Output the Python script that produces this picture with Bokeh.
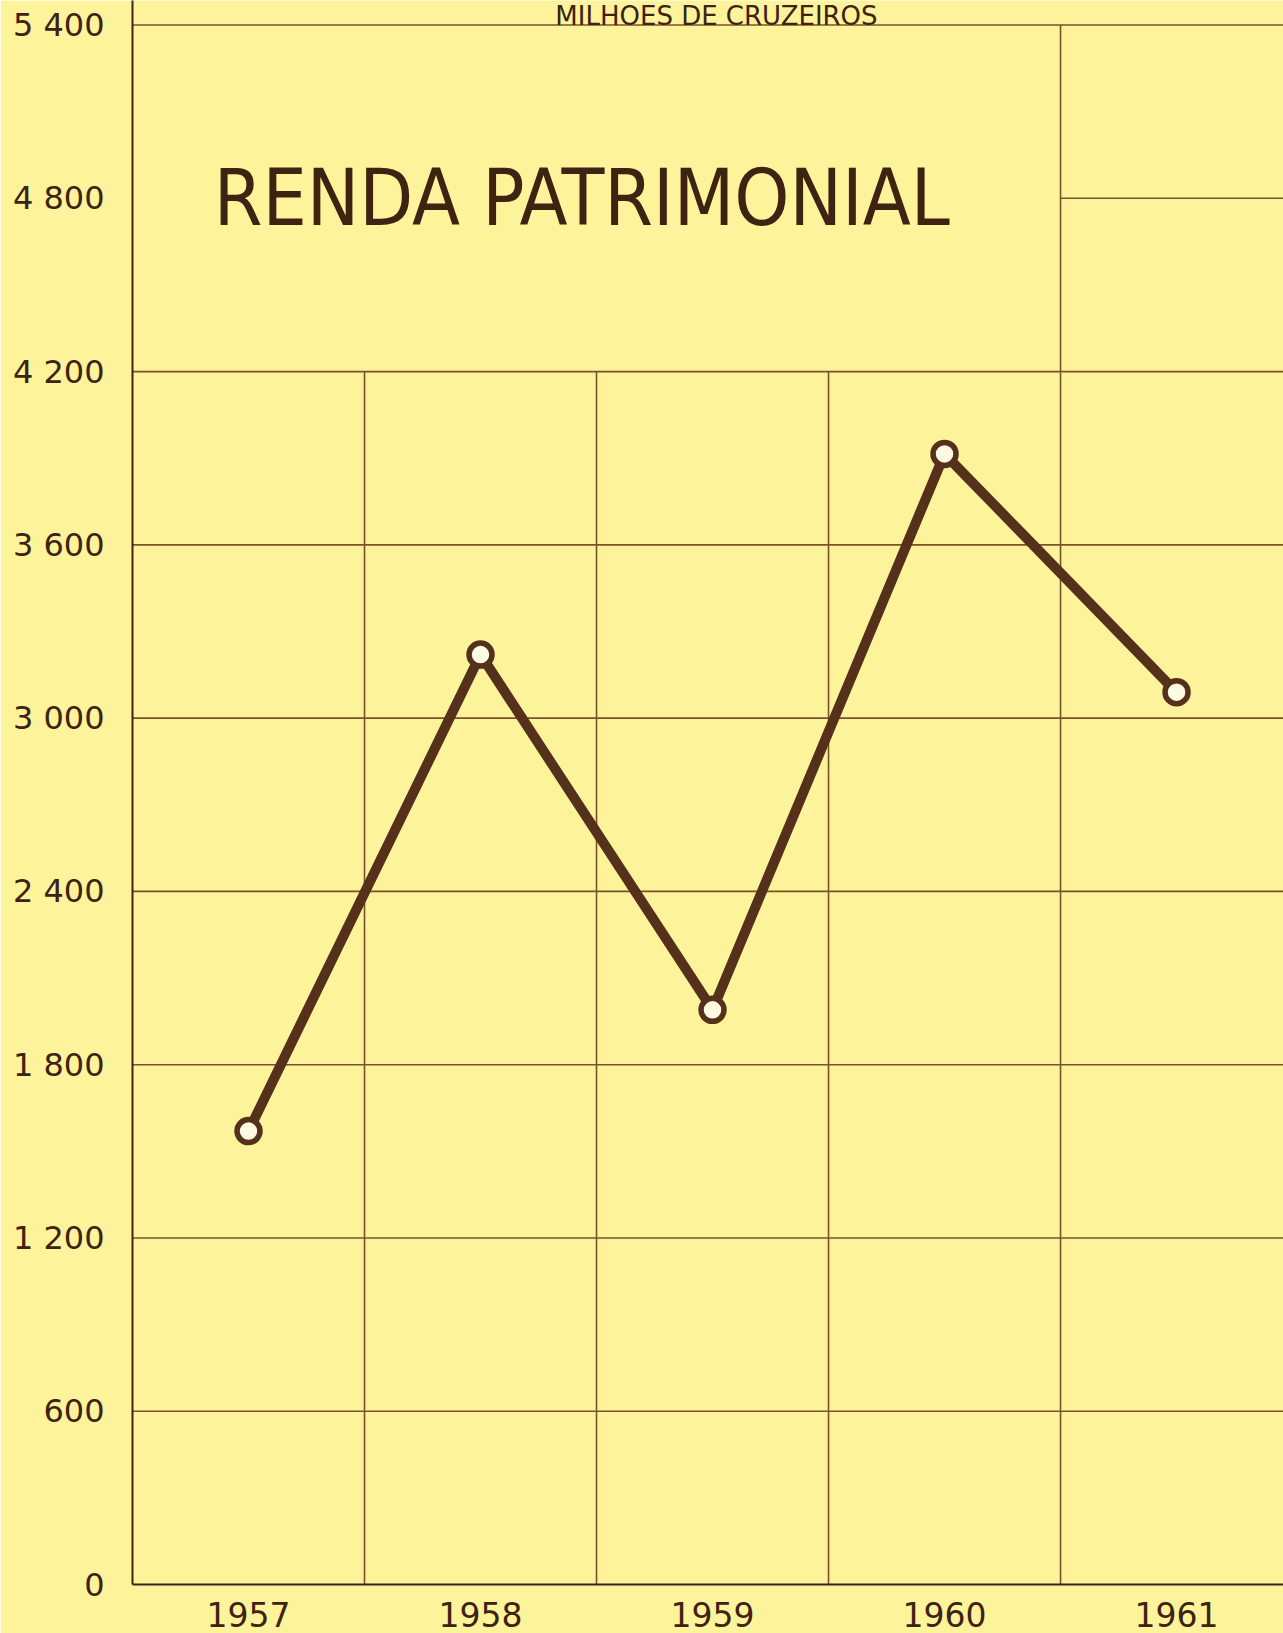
from bokeh.plotting import figure
from bokeh.models import FixedTicker, Range1d, Label
from bokeh.embed import file_html
from bokeh.resources import INLINE

# ---- data ----
years = [1957, 1958, 1959, 1960, 1961]
renda = [1570, 3220, 1990, 3915, 3090]          # milhões de cruzeiros
year_labels = ["1957", "1958", "1959", "1960", "1961"]
y_ticks = [0, 600, 1200, 1800, 2400, 3000, 3600, 4200, 4800, 5400]
y_tick_labels = ["0", "600", "1 200", "1 800", "2 400", "3 000",
                 "3 600", "4 200", "4 800", "5 400"]
title_text = "RENDA PATRIMONIAL"
unit_text = "MILHOES DE CRUZEIROS"

# ---- style ----
BG = "#FCF39B"
DARK = "#3E2212"
LINE = "#55301A"
GRID = "#7A5228"
COND = "DejaVu Sans Condensed, Roboto, sans-serif"
x_lo, x_hi = 1956.5, 1961.461
box_bottom = 4200          # the title box occupies the area above this value
box_right_col = 1960.5     # ... left of this column boundary

p = figure(width=1283, height=1633, output_backend="svg", toolbar_location=None,
           x_range=Range1d(x_lo, x_hi), y_range=Range1d(0, 5485),
           min_border_left=132, min_border_right=0, min_border_top=0,
           min_border_bottom=49, background_fill_color=BG, border_fill_color=BG,
           outline_line_color=None)
p.grid.visible = False

# axes
p.xaxis.ticker = FixedTicker(ticks=years)
p.xaxis.major_label_overrides = {y: l for y, l in zip(years, year_labels)}
p.yaxis.ticker = FixedTicker(ticks=y_ticks)
p.yaxis.major_label_overrides = {t: l for t, l in zip(y_ticks, y_tick_labels)}
for ax in (p.xaxis, p.yaxis):
    ax.axis_line_color = DARK
    ax.axis_line_width = 2
    ax.major_tick_line_color = None
    ax.minor_tick_line_color = None
    ax.major_label_text_font = "DejaVu Sans"
    ax.major_label_text_color = DARK
p.xaxis.major_label_text_font_size = "33px"
p.xaxis.major_label_standoff = 11
p.yaxis.major_label_text_font_size = "32px"
p.yaxis.major_label_standoff = 22

# grid lines (the title box keeps its interior free)
col_bounds = [y + 0.5 for y in years[:-1]]
h_full = [t for t in y_ticks if 0 < t <= box_bottom] + [y_ticks[-1]]
h_right = [t for t in y_ticks if box_bottom < t < y_ticks[-1]]
v_low = [c for c in col_bounds if c < box_right_col]
v_full = [c for c in col_bounds if c >= box_right_col]
grid_kw = dict(line_color=GRID, line_width=1.6)
p.segment(x0=[x_lo] * len(h_full), y0=h_full, x1=[x_hi + 1] * len(h_full), y1=h_full, **grid_kw)
p.segment(x0=[box_right_col] * len(h_right), y0=h_right, x1=[x_hi + 1] * len(h_right), y1=h_right, **grid_kw)
p.segment(x0=v_low, y0=[0] * len(v_low), x1=v_low, y1=[box_bottom] * len(v_low), **grid_kw)
p.segment(x0=v_full, y0=[0] * len(v_full), x1=v_full, y1=[y_ticks[-1]] * len(v_full), **grid_kw)

# data
p.line(years, renda, line_width=10, line_color=LINE, line_join="round", line_cap="round")
p.scatter(years, renda, size=23, fill_color="#FFFBE2", line_color=LINE, line_width=5.5)

# texts
p.add_layout(Label(x=1956.85, y=4800, text=title_text, text_font=COND,
                   text_font_size="78px", text_color=DARK, text_align="left",
                   text_baseline="alphabetic"))
p.add_layout(Label(x=1959.017, y=5432, text=unit_text, text_font="DejaVu Sans",
                   text_font_size="26px", text_color=DARK, text_align="center",
                   text_baseline="alphabetic"))

open("out.html", "w").write(file_html(p, INLINE))
